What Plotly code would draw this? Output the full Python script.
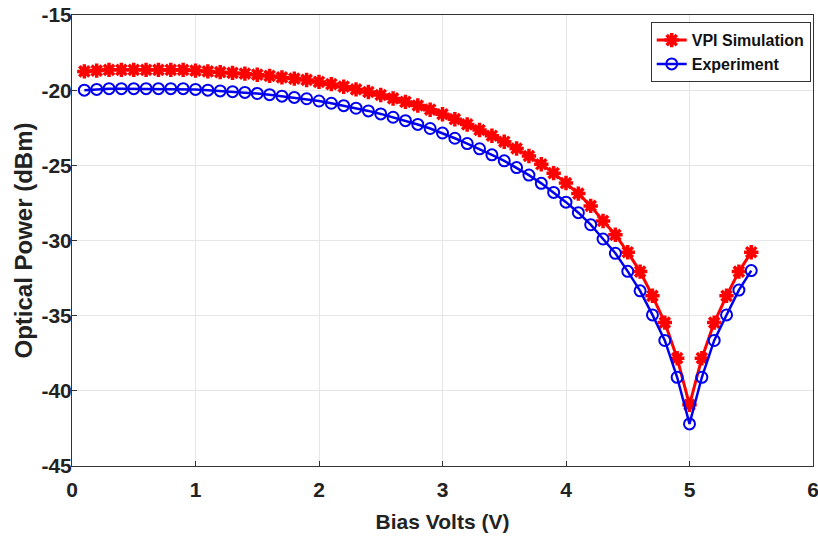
import plotly.graph_objects as go

bias_v = [round(0.1 * i, 1) for i in range(1, 56)]

vpi_simulation = [
    -18.75, -18.70, -18.65, -18.65, -18.65, -18.65, -18.65, -18.65, -18.65, -18.70,
    -18.75, -18.80, -18.85, -18.90, -18.97, -19.05, -19.15, -19.23, -19.32, -19.45,
    -19.60, -19.77, -19.95, -20.12, -20.32, -20.55, -20.78, -21.02, -21.30, -21.60,
    -21.93, -22.28, -22.65, -23.03, -23.43, -23.88, -24.38, -24.93, -25.52, -26.18,
    -26.88, -27.70, -28.70, -29.62, -30.78, -32.07, -33.68, -35.46, -37.83, -40.93,
    -37.83, -35.46, -33.68, -32.07, -30.78,
]

experiment = [
    -20.00, -19.95, -19.90, -19.90, -19.90, -19.90, -19.90, -19.90, -19.90, -19.95,
    -20.00, -20.05, -20.10, -20.15, -20.22, -20.30, -20.40, -20.48, -20.57, -20.72,
    -20.87, -21.03, -21.20, -21.38, -21.58, -21.80, -22.03, -22.28, -22.55, -22.85,
    -23.20, -23.55, -23.90, -24.30, -24.70, -25.15, -25.65, -26.20, -26.80, -27.45,
    -28.15, -28.95, -29.90, -30.85, -32.05, -33.35, -34.95, -36.65, -39.10, -42.20,
    -39.10, -36.65, -34.95, -33.30, -32.00,
]

x_ticks = [0, 1, 2, 3, 4, 5, 6]
y_ticks = [-45, -40, -35, -30, -25, -20, -15]

FONT = "Liberation Sans Narrow, Liberation Sans, Arial"
tick_font = dict(family=FONT, size=21, color="#222222", weight="bold")

fig = go.Figure()
fig.add_trace(go.Scatter(
    x=bias_v, y=vpi_simulation, name="VPI Simulation", mode="lines+markers",
    line=dict(color="#ff0000", width=3),
    marker=dict(symbol="asterisk-open", size=12, color="#ff0000",
                line=dict(color="#ff0000", width=3.5)),
))
fig.add_trace(go.Scatter(
    x=bias_v, y=experiment, name="Experiment", mode="lines+markers",
    line=dict(color="#0000ee", width=2.5),
    marker=dict(symbol="circle-open", size=11, color="#0000ee",
                line=dict(color="#0000ee", width=2)),
))

fig.update_layout(
    width=818, height=544,
    margin=dict(l=72, r=5, t=15, b=78),
    paper_bgcolor="white", plot_bgcolor="white",
    showlegend=True,
    legend=dict(
        x=0.781, y=0.984, xanchor="left", yanchor="top",
        bgcolor="white", bordercolor="#333333", borderwidth=1,
        font=dict(family=FONT, size=16, color="#111111", weight="bold"),
        tracegroupgap=2, itemwidth=30,
    ),
    xaxis=dict(
        range=[0, 6], tickvals=x_ticks, ticktext=[str(v) for v in x_ticks],
        showgrid=True, gridcolor="#e6e6e6", gridwidth=1,
        showline=True, linecolor="#333333", linewidth=1, mirror=True,
        ticks="inside", ticklen=5, tickcolor="#333333",
        tickfont=tick_font, automargin=False, ticklabelstandoff=5,
        ticklabeloverflow="allow",
        zeroline=False,
        title=dict(text="Bias Volts (V)", standoff=14,
                   font=dict(family=FONT, size=21, color="#222222", weight="bold")),
    ),
    yaxis=dict(
        range=[-45, -15], tickvals=y_ticks, ticktext=[str(v) for v in y_ticks],
        showgrid=True, gridcolor="#e6e6e6", gridwidth=1,
        showline=True, linecolor="#333333", linewidth=1, mirror=True,
        ticks="inside", ticklen=5, tickcolor="#333333",
        tickfont=tick_font, automargin=False, ticklabelstandoff=-5,
        ticklabeloverflow="allow",
        zeroline=False,
        title=dict(text="Optical Power (dBm)", standoff=2,
                   font=dict(family="Liberation Sans, Arial", size=24, color="#222222", weight="bold")),
    ),
)

fig.write_html("out.html", config={"displayModeBar": False},
               post_script="document.body.style.margin='0';")
